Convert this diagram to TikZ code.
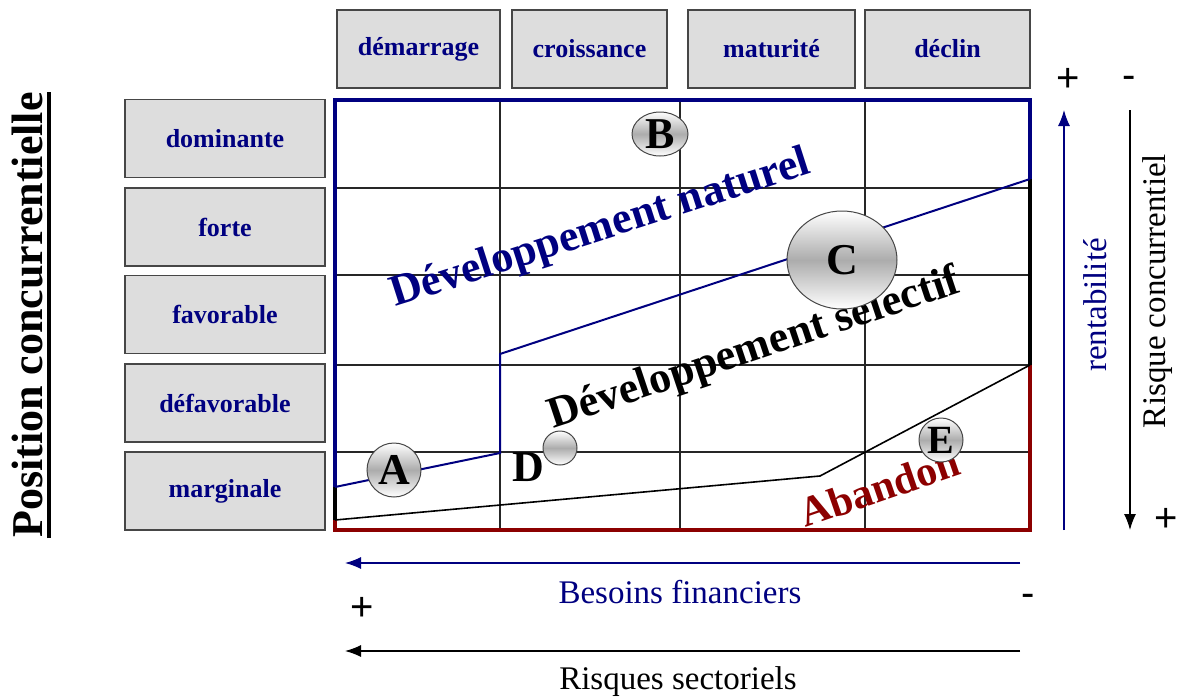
\documentclass[tikz,border=0pt]{standalone}
\usepackage{fontspec}
\setmainfont{Liberation Serif}
\newfontfamily\signfont{Liberation Sans}
\usetikzlibrary{shapes.geometric,arrows.meta,positioning,calc}
\definecolor{bcgnavy}{RGB}{0,0,128}
\definecolor{bcgred}{RGB}{140,0,0}
\definecolor{boxgray}{RGB}{221,221,221}
\definecolor{boxline}{RGB}{70,70,70}

\tikzset{
  phase/.style={draw=boxline, line width=0.8pt, fill=boxgray, text=bcgnavy,
    font=\bfseries\fontsize{13}{15}\selectfont, minimum height=39pt, inner sep=0pt},
  ball/.style={draw=boxline, line width=0.5pt, top color=white, bottom color=white,
    middle color=gray!65, inner sep=0pt, font=\bfseries\fontsize{22}{26}\selectfont},
  gridline/.style={black!85, line width=0.6pt},
  zone/.style={font=\bfseries\fontsize{22}{26}\selectfont, anchor=base},
  axislabel/.style={font=\fontsize{16.5}{20}\selectfont},
  sign/.style={font=\signfont\fontsize{20}{24}\selectfont, inner sep=0pt},
  axisarrow/.style={line width=0.6pt, -{Latex[length=8pt,width=6pt]}}
}

\begin{document}
\begin{tikzpicture}[x=0.5pt, y=-0.5pt]
    \useasboundingbox (0,0) rectangle (1185,697);

    % phases du cycle de vie
    \node[phase, minimum width=81.5pt] (demarrage) at (418.5,49) {démarrage};
    \node[phase, minimum width=77.5pt] (croissance) at (589.5,49) {croissance};
    \node[phase, minimum width=83.5pt] (maturite) at (771.5,49) {maturité};
    \node[phase, minimum width=82.5pt] (declin) at (947.5,49) {déclin};

    % positions concurrentielles
    \node[phase, minimum width=100pt] (dominante) at (225,138.5) {dominante};
    \node[phase, minimum width=100pt] (forte) at (225,227) {forte};
    \node[phase, minimum width=100pt] (favorable) at (225,314.5) {favorable};
    \node[phase, minimum width=100pt] (defavorable) at (225,403) {défavorable};
    \node[phase, minimum width=100pt] (marginale) at (225,491) {marginale};

    \node[rotate=90, inner sep=0pt, font=\bfseries\fontsize{22}{26}\selectfont] (position) at (28,315) {Position concurrentielle};
    \draw[line width=2pt] ([xshift=2.5pt]position.south west) -- ([xshift=2.5pt]position.south east);

    % grille
    \draw[gridline] (500,100) -- (500,530);
    \draw[gridline] (680,100) -- (680,530);
    \draw[gridline] (865,100) -- (865,530);
    \draw[gridline] (335,188) -- (1030,188);
    \draw[gridline] (335,275) -- (1030,275);
    \draw[gridline] (335,365) -- (1030,365);
    \draw[gridline] (335,452) -- (1030,452);

    % cadre
    \draw[bcgnavy, line width=1.8pt] (335,487) -- (335,100) -- (1030,100) -- (1030,179);
    \draw[black, line width=1.6pt] (335,487) -- (335,520);
    \draw[black, line width=1.6pt] (1030,179) -- (1030,365);
    \draw[bcgred, line width=1.6pt] (335,520) -- (335,530) -- (1030,530) -- (1030,365);

    % zones
    \draw[bcgnavy, line width=1pt] (335,487) -- (500,453) -- (500,354) -- (1030,179);
    \draw[black, line width=0.8pt] (335,520) -- (820,476) -- (1030,365);
    \node[zone, rotate=17.8, text=bcgnavy] (naturel) at (604,240) {Développement naturel};
    \node[zone, rotate=18.5] (selectif) at (758,360) {Développement selectif};
    \node[zone, rotate=19, text=bcgred, font=\bfseries\fontsize{21}{25}\selectfont] (abandon) at (884,501) {Abandon};

    % domaines d'activite
    \node[ball, circle, minimum size=27pt] (A) at (394,470) {A};
    \node[ball, ellipse, minimum width=28pt, minimum height=22pt] (B) at (660,134) {B};
    \node[ball, ellipse, minimum width=55pt, minimum height=49pt] (C) at (842,260) {C};
    \node[ball, circle, minimum size=17pt] (D) at (560,448) {};
    \node[font=\bfseries\fontsize{22}{26}\selectfont] (Dlabel) at (528,467) {D};
    \node[ball, circle, minimum size=22pt, font=\bfseries\fontsize{20}{24}\selectfont] (E) at (941,440) {E};

    % axes
    \coordinate (rentlow) at (1064,530);
    \coordinate (renthigh) at (1064,110);
    \coordinate (risktop) at (1130,110);
    \coordinate (riskbot) at (1130,530);
    \coordinate (finright) at (1020,563);
    \coordinate (finleft) at (345,563);
    \coordinate (sectright) at (1020,651);
    \coordinate (sectleft) at (345,651);
    \draw[axisarrow, bcgnavy] (rentlow) -- (renthigh);
    \draw[axisarrow, black] (risktop) -- (riskbot);
    \draw[axisarrow, bcgnavy] (finright) -- (finleft);
    \draw[axisarrow, black] (sectright) -- (sectleft);

    \node[axislabel, rotate=90, text=bcgnavy] (rentabilite) at (1095,305) {rentabilité};
    \node[axislabel, rotate=90] (risqueconc) at (1158,291) {Risque concurrentiel};
    \node[axislabel, text=bcgnavy] (besoins) at (680,592) {Besoins financiers};
    \node[axislabel] (risquessect) at (678,682) {Risques sectoriels};

    \node[sign] (plusrent) at (1068,80) {+};
    \node[sign] (minusrisk) at (1129,82) {-};
    \node[sign] (plusrisk) at (1166,520) {+};
    \node[sign] (plusfin) at (362,609) {+};
    \node[sign] (minusfin) at (1028,600) {-};
\end{tikzpicture}
\end{document}
